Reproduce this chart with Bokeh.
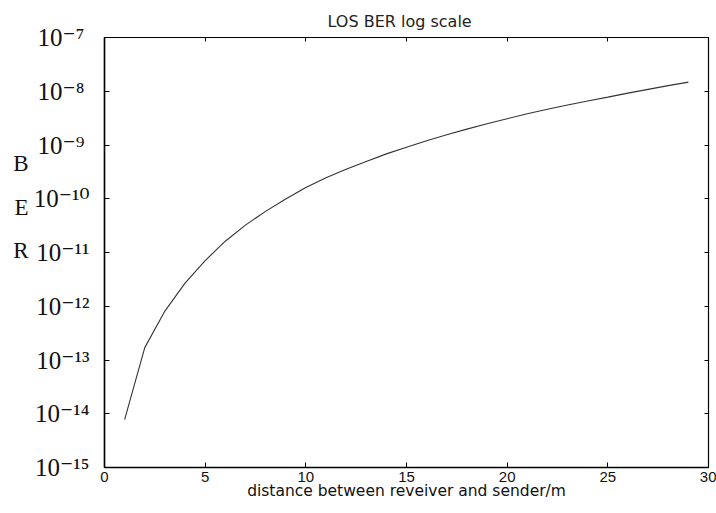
from bokeh.plotting import figure
from bokeh.models import Range1d, FixedTicker, LinearAxis, LogAxis
from bokeh.embed import file_html
from bokeh.resources import INLINE

# distance (m)
distance = list(range(1, 30))
# log10(BER)
log_ber = [-14.11, -12.77, -12.09, -11.57, -11.15, -10.79, -10.49, -10.235, -10.005, -9.79,
           -9.61, -9.45, -9.305, -9.165, -9.04, -8.92, -8.81, -8.705, -8.605, -8.51,
           -8.42, -8.335, -8.255, -8.18, -8.11, -8.035, -7.965, -7.895, -7.83]
ber = [10 ** v for v in log_ber]

x_ticks = [0, 5, 10, 15, 20, 25, 30]
y_exponents = [-15, -14, -13, -12, -11, -10, -9, -8, -7]
y_ticks = [10.0 ** e for e in y_exponents]
sup = str.maketrans("-0123456789", "⁻⁰¹²³⁴⁵⁶⁷⁸⁹")
y_tick_labels = ["10" + str(e).translate(sup) + ("\u2009" if abs(e) < 10 else "")
                 for e in y_exponents]

ylabel_letters = ["B", "E", "R"]
ylabel_positions = [10 ** -9.34, 10 ** -10.16, 10 ** -10.96]

SERIF = "'Liberation Serif', 'DejaVu Serif', serif"

p = figure(width=716, height=513, y_axis_type="log",
           x_range=Range1d(0, 30), y_range=Range1d(1e-15, 1e-7),
           output_backend="svg", toolbar_location=None,
           min_border_left=104, min_border_right=8,
           min_border_top=37, min_border_bottom=46)

p.title.text = "LOS BER log scale"
p.title.align = "left"
p.title.text_font = "DejaVu Sans"
p.title.text_font_size = "16px"
p.title.text_font_style = "normal"
p.title.text_color = "#222222"
p.title.offset = 223
p.title.standoff = 14

p.grid.visible = False
p.outline_line_color = "black"
p.outline_line_width = 1.2
p.background_fill_color = "white"
p.border_fill_color = "white"

xa = p.xaxis[0]
xa.ticker = FixedTicker(ticks=x_ticks)
xa.major_label_text_font = "Liberation Sans"
xa.major_label_text_font_size = "15px"
xa.major_label_text_color = "#111111"
xa.major_tick_in = 5
xa.major_tick_out = 0
xa.minor_tick_line_color = None
xa.major_label_standoff = 4
xa.axis_label = "distance between reveiver and sender/m"
xa.axis_label_text_font = "DejaVu Sans"
xa.axis_label_text_font_size = "15.5px"
xa.axis_label_text_font_style = "normal"
xa.axis_label_text_color = "#111111"
xa.axis_label_standoff = -3
xa.axis_line_width = 1.5

ya = p.yaxis[0]
ya.ticker = FixedTicker(ticks=y_ticks)
ya.major_label_overrides = {t: lab for t, lab in zip(y_ticks, y_tick_labels)}
ya.major_label_text_font = SERIF
ya.major_label_text_font_size = "25px"
ya.major_label_text_color = "#111111"
ya.major_tick_in = 5
ya.major_tick_out = 0
ya.minor_tick_line_color = None
ya.major_label_standoff = 15
ya.axis_line_width = 1.5

# stacked "B E R" letters drawn as a second left axis with letter labels
ber_axis = LogAxis(ticker=FixedTicker(ticks=ylabel_positions),
                   major_label_overrides={t: s for t, s in zip(ylabel_positions, ylabel_letters)},
                   major_label_text_font="Liberation Serif", major_label_text_font_size="23px",
                   major_label_text_color="#111111", major_label_standoff=-4,
                   major_tick_line_color=None, minor_tick_line_color=None,
                   axis_line_color=None)
p.add_layout(ber_axis, "left")

top = LinearAxis(ticker=FixedTicker(ticks=x_ticks), major_tick_in=4, major_tick_out=0,
                 major_label_text_font_size="2px", major_label_text_alpha=0,
                 major_label_standoff=0, minor_tick_line_color=None)
right = LogAxis(ticker=FixedTicker(ticks=y_ticks), major_tick_in=4, major_tick_out=0,
                major_label_text_font_size="2px", major_label_text_alpha=0,
                major_label_standoff=0, minor_tick_line_color=None)
p.add_layout(top, "above")
p.add_layout(right, "right")

p.line(distance, ber, line_color="#333333", line_width=1.1)

open("out.html", "w").write(file_html(p, INLINE))
